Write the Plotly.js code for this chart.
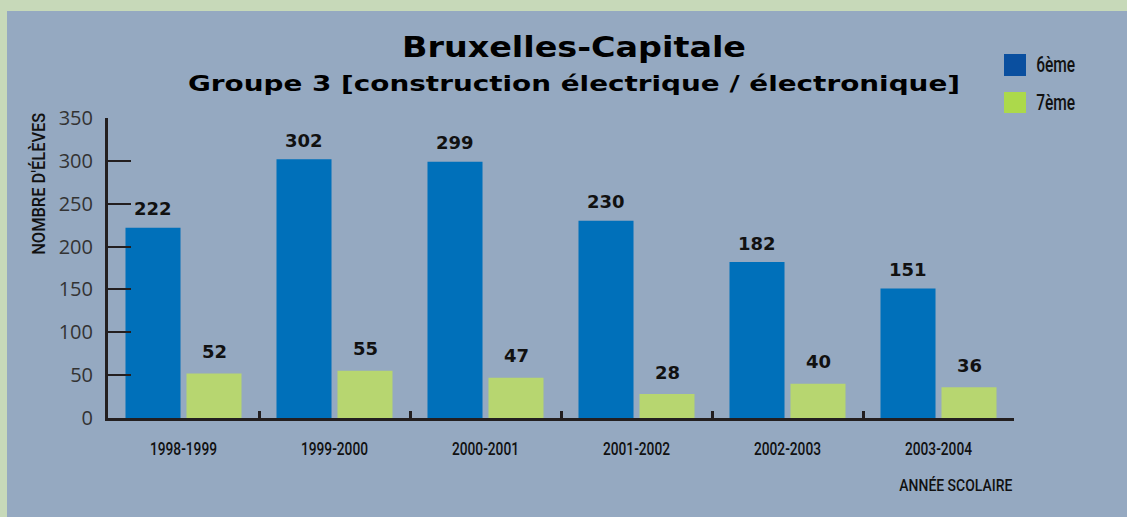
<!DOCTYPE html>
<html>
<head>
<meta charset="utf-8">
<script src="https://cdn.plot.ly/plotly-3.0.1.min.js"></script>
<style>
  html, body { margin: 0; padding: 0; background: #c7d9b9; width: 1127px; height: 517px; overflow: hidden; }
  #chart { position: absolute; left: 7px; top: 11px; width: 1120px; height: 506px; }
</style>
</head>
<body>
<div id="chart"></div>
<script>
const years = ["1998-1999", "1999-2000", "2000-2001", "2001-2002", "2002-2003", "2003-2004"];
const sixieme = [222, 302, 299, 230, 182, 151];
const septieme = [52, 55, 47, 28, 40, 36];
const seriesNames = ["6ème", "7ème"];
const chartTitle = "Bruxelles-Capitale";
const chartSubtitle = "Groupe 3 [construction électrique / électronique]";
const yTitle = "NOMBRE D'ÉLÈVES";
const xTitle = "ANNÉE SCOLAIRE";

const NARROW = "Roboto, Liberation Sans, sans-serif";
const BOLD = "DejaVu Sans, Liberation Sans, sans-serif";
const barBlue = "#0070ba", barGreen = "#b7d670";
const legBlue = "#0a4f9f", legGreen = "#acd94b";
const ink = "#231f20";

const bargap = 0.192, bargroupgap = 0.098;
const half = (1 - bargap) / 4; // centre offset of each bar inside its group

const traces = [
  { type: "bar", x: years, y: sixieme, name: seriesNames[0], marker: { color: barBlue }, hoverinfo: "none" },
  { type: "bar", x: years, y: septieme, name: seriesNames[1], marker: { color: barGreen }, hoverinfo: "none" }
];

// plot-area geometry in div pixels, used to place decorations in paper coordinates
const W = 1120, H = 506, ml = 101, mr = 113, mt = 107, mb = 99;
const pw = W - ml - mr, ph = H - mt - mb;
const px = v => (v - ml) / pw;
const py = v => (H - mb - v) / ph;

const labelFont = { family: BOLD, size: 18, color: "#111", weight: "bold" };
const annotations = [];
years.forEach((yr, i) => {
  annotations.push({ x: i - half, y: sixieme[i], xref: "x", yref: "y", text: String(sixieme[i]),
    showarrow: false, yanchor: "middle", yshift: 19, font: labelFont });
  annotations.push({ x: i + half, y: septieme[i], xref: "x", yref: "y", text: String(septieme[i]),
    showarrow: false, yanchor: "middle", yshift: 22, font: labelFont });
});
const firstDeco = annotations.length;
annotations.push({ x: px(567), y: py(72), xref: "paper", yref: "paper", text: chartSubtitle,
  showarrow: false, xanchor: "center", yanchor: "middle", font: { family: BOLD, size: 22, color: "#000", weight: "bold" } });
annotations.push({ x: px(31), y: py(173), xref: "paper", yref: "paper", text: yTitle, textangle: -90,
  showarrow: false, xanchor: "center", yanchor: "middle", font: { family: NARROW, size: 19, color: "#111", weight: 500 } });
annotations.push({ x: px(948.5), y: py(474), xref: "paper", yref: "paper", text: xTitle,
  showarrow: false, xanchor: "center", yanchor: "middle", font: { family: NARROW, size: 17, color: "#111", weight: 500 } });
annotations.push({ x: px(1048.5), y: py(54), xref: "paper", yref: "paper", text: seriesNames[0],
  showarrow: false, xanchor: "center", yanchor: "middle", font: { family: NARROW, size: 22, color: "#111", weight: 500 } });
annotations.push({ x: px(1048.5), y: py(91), xref: "paper", yref: "paper", text: seriesNames[1],
  showarrow: false, xanchor: "center", yanchor: "middle", font: { family: NARROW, size: 22, color: "#111", weight: 500 } });

const shapes = [
  { type: "rect", xref: "paper", yref: "paper", x0: px(997), x1: px(1019), y0: py(43), y1: py(65),
    fillcolor: legBlue, line: { width: 0 } },
  { type: "rect", xref: "paper", yref: "paper", x0: px(997), x1: px(1019), y0: py(81), y1: py(102),
    fillcolor: legGreen, line: { width: 0 } }
];

const layout = {
  width: W, height: H,
  margin: { l: ml, r: mr, t: mt, b: mb, pad: 0 },
  paper_bgcolor: "#95a9c1", plot_bgcolor: "rgba(0,0,0,0)",
  showlegend: false,
  barmode: "group", bargap: bargap, bargroupgap: bargroupgap,
  title: { text: chartTitle, x: 567 / W, xref: "container", xanchor: "center",
    y: 1 - 36 / H, yref: "container", yanchor: "middle",
    font: { family: BOLD, size: 28, color: "#000", weight: "bold" } },
  xaxis: {
    type: "category", showgrid: false, zeroline: false,
    showline: true, linecolor: ink, linewidth: 3,
    ticks: "inside", tickson: "boundaries", ticklen: 7, tickwidth: 3, tickcolor: ink,
    tickfont: { family: NARROW, size: 19, color: "#111", weight: 500 }, ticklabelstandoff: 11
  },
  yaxis: {
    range: [0, 350], dtick: 50, tick0: 0, showgrid: false, zeroline: false,
    showline: true, linecolor: ink, linewidth: 3,
    ticks: "inside", ticklen: 23, tickwidth: 2, tickcolor: ink,
    tickfont: { family: "Open Sans, sans-serif", size: 20, color: "#333" }, ticklabelstandoff: 8
  },
  annotations: annotations,
  shapes: shapes
};

// squeeze / stretch rendered text to the widths of the original typefaces
function fit(el, width) {
  if (!el) return;
  el.setAttribute("textLength", width);
  el.setAttribute("lengthAdjust", "spacingAndGlyphs");
}

Plotly.newPlot("chart", traces, layout, { staticPlot: true, displayModeBar: false }).then(gd => {
  fit(gd.querySelector(".g-gtitle text"), 344);
  const ann = i => gd.querySelector('.annotation[data-index="' + i + '"] text');
  fit(ann(firstDeco), 772);
  fit(ann(firstDeco + 1), 142);
  fit(ann(firstDeco + 2), 113);
  fit(ann(firstDeco + 3), 39);
  fit(ann(firstDeco + 4), 39);
  gd.querySelectorAll(".xtick text").forEach(t => fit(t, 67));
});
</script>
</body>
</html>
